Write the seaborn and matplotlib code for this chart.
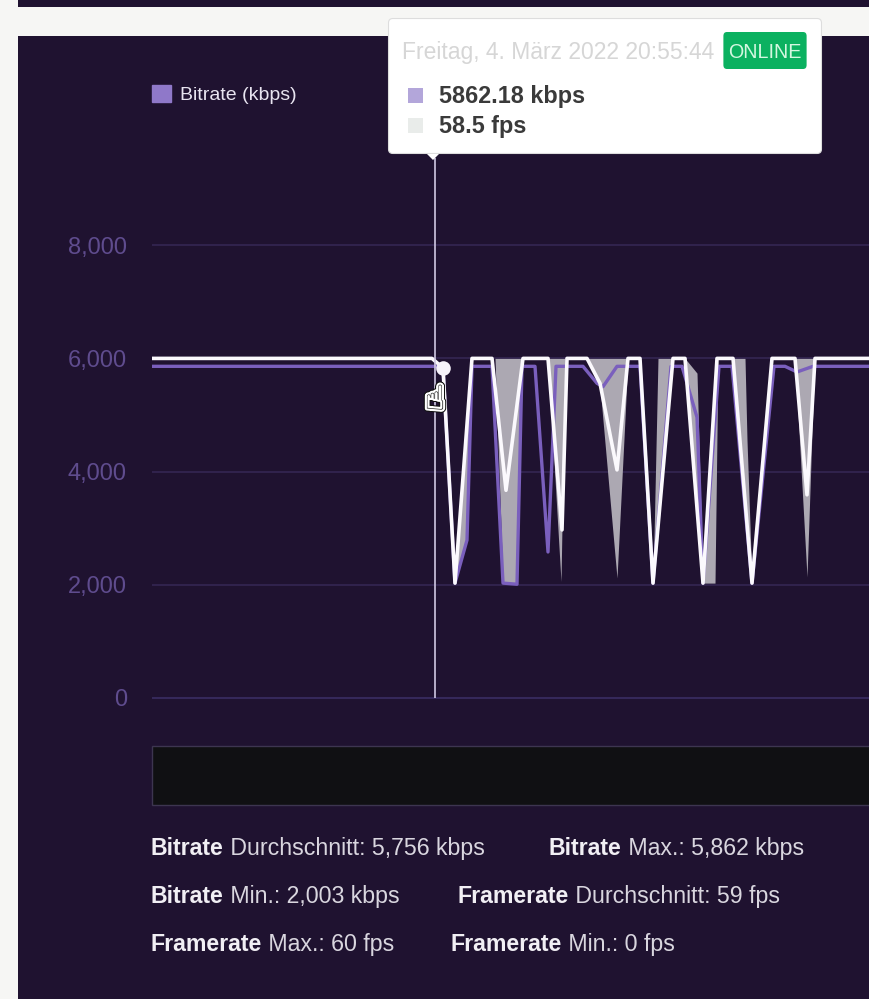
import numpy as np
import pandas as pd
import seaborn as sns
import matplotlib.pyplot as plt
from matplotlib.patches import FancyBboxPatch, Rectangle, Patch, Polygon
import matplotlib.patheffects as pe

W, H = 870, 999

# time is seconds from the left edge of the plot
bitrate_t = [0, 283, 291, 303, 315, 320, 340, 351, 365, 370, 383, 396, 404, 431, 445, 451,
             465, 476, 488, 501, 519, 530, 545, 551, 567, 580, 600, 622, 633, 645, 661, 718]
bitrate = [5860, 5860, 5830, 2030, 2790, 5860, 5860, 2030, 2010, 5860, 5860, 2580, 5860, 5860, 5560, 5500,
           5860, 5860, 5860, 2030, 5860, 5860, 4960, 2030, 5860, 5860, 2030, 5860, 5860, 5760, 5860, 5860]

framerate_t = [0, 280, 291, 303, 320, 340, 354, 371, 396, 410, 415, 435, 448, 465, 476, 488, 501, 521, 533,
               551, 565, 581, 600, 620, 643, 655, 663, 718]
framerate = [6000, 6000, 5830, 2030, 6000, 6000, 3670, 6000, 6000, 2970, 6000, 6000, 5560, 4030, 6000, 6000, 2030, 6000, 6000,
             2030, 6000, 6000, 2030, 6000, 6000, 3590, 6000, 6000]

# grey band between two series
band_t = [291, 303, 315, 320, 340, 343, 351, 365, 370, 396, 409, 413, 435, 448, 465, 476, 488, 501, 506, 521,
          533, 545, 551, 563, 566, 581, 593, 595, 600, 643, 655, 660, 663]
band_a = [5830, 2030, 4830, 6000, 6000, 6000, 6000, 6000, 6000, 6000, 6000, 6000, 6000, 6000, 6000, 6000, 6000, 2030, 3020, 6000,
          6000, 3350, 2030, 5430, 6000, 6000, 3490, 3070, 2030, 6000, 6000, 6000, 6000]
band_b = [5830, 2030, 2790, 6000, 6000, 6000, 2030, 2030, 6000, 6000, 2060, 6000, 6000, 5500, 2120, 6000, 6000, 2030, 6000, 6000,
          6000, 5740, 2030, 2030, 6000, 6000, 6000, 4560, 2030, 6000, 2140, 4700, 6000]

y_ticks = [0, 2000, 4000, 6000, 8000]

cursor_t = 283
hover_t = 291
hover_v = 5830

stats_rows = [
    [(151, 'Bitrate', ' Durchschnitt: 5,756 kbps'), (549, 'Bitrate', ' Max.: 5,862 kbps')],
    [(151, 'Bitrate', ' Min.: 2,003 kbps'), (458, 'Framerate', ' Durchschnitt: 59 fps')],
    [(151, 'Framerate', ' Max.: 60 fps'), (451, 'Framerate', ' Min.: 0 fps')],
]
stats_y = [855, 903, 951]

sns.set_theme(style='dark')
plt.rcParams['font.family'] = ['Liberation Sans', 'DejaVu Sans']

dark = '#1f1230'


def fx(x):
    return x / W


def fy(y):
    return 1 - y / H


def box(x0, y0, x1, y1, **kw):
    r = Rectangle((fx(x0), fy(y1)), (x1 - x0) / W, (y1 - y0) / H, transform=fig.transFigure, **kw)
    fig.add_artist(r)
    return r


fig = plt.figure(figsize=(W / 100, H / 100), dpi=100, facecolor='#f6f6f4')

box(18, 0, W + 5, 7, fc=dark, ec='none', zorder=-1)
box(18, 36, W + 5, H + 5, fc=dark, ec='none', zorder=-1)

# y=0 is at 698px, 8000 at 245px
ax = fig.add_axes([fx(152), fy(698), 718 / W, 566 / H])
ax.set_facecolor('none')
ax.set_xlim(0, 718)
ax.set_ylim(0, 10000)
for s in ax.spines.values():
    s.set_visible(False)

ax.set_yticks(y_ticks)
ax.set_yticklabels(['{:,}'.format(v) for v in y_ticks])
ax.tick_params(axis='y', length=0, pad=18, labelsize=17, labelcolor='#5f4c8e')
ax.set_xticks([])
ax.grid(False)
ax.hlines(y_ticks[1:], 0, 718, color='#322450', lw=1.3, zorder=1)
ax.hlines(0, 0, 718, color='#35285a', lw=1.5, zorder=1, clip_on=False)

ax.fill_between(band_t, band_a, band_b, color='#aca8b2', lw=0, zorder=2)
sns.lineplot(x=bitrate_t, y=bitrate, color='#7a5fbd', lw=2.4, estimator=None, sort=False, ax=ax, zorder=3)
sns.lineplot(x=framerate_t, y=framerate, color='#fbf9fd', lw=2.6, estimator=None, sort=False, ax=ax, zorder=4)

ax.vlines(cursor_t, 0, 9540, color='#cfc8e2', lw=1.2, zorder=5)
ax.scatter([hover_t], [hover_v], s=110, color='#f6f2fa', lw=0, zorder=6)
ax.text(cursor_t, 5270, '\u261d', family='DejaVu Sans', fontsize=25, color='#222222', ha='center', va='center',
        zorder=7, path_effects=[pe.Stroke(linewidth=4.5, foreground='#111111'),
                                pe.Stroke(linewidth=3, foreground='white'), pe.Normal()])

ax.set_xlabel('')
ax.set_ylabel('')

leg = ax.legend(handles=[Patch(color='#8f78c9', label='Bitrate (kbps)')], loc='upper left',
                bbox_to_anchor=(fx(152), fy(85)), bbox_transform=fig.transFigure, frameon=False,
                borderpad=0, borderaxespad=0, handlelength=0.98, handleheight=1.0, handletextpad=0.45, fontsize=14)
leg.get_texts()[0].set_color('#e8e4f0')

# range selector strip
box(152, 746, W + 5, 805, fc='#101013', ec='#3d3550', lw=1, zorder=1)

# tooltip
tip = FancyBboxPatch((fx(392), fy(150)), 426 / W, 128 / H, boxstyle='round,pad=0.004,rounding_size=0.005',
                     transform=fig.transFigure, fc='white', ec='#dddddd', lw=0.8, zorder=8, mutation_aspect=W / H)
fig.add_artist(tip)
fig.add_artist(Polygon([[fx(427), fy(154)], [fx(433), fy(160)], [fx(439), fy(154)]], closed=True,
                       transform=fig.transFigure, fc='white', ec='none', zorder=8))
fig.text(fx(402), fy(52), 'Freitag, 4. März 2022 20:55:44', color='#d6d6d6', fontsize=16.5, va='center', zorder=9)
badge = FancyBboxPatch((fx(726), fy(66)), 78 / W, 31 / H, boxstyle='round,pad=0.003,rounding_size=0.004',
                       transform=fig.transFigure, fc='#0bb160', ec='none', zorder=9)
fig.add_artist(badge)
fig.text(fx(765), fy(52.5), 'ONLINE', color='#d4f7e0', fontsize=14.2, ha='center', va='center', zorder=10)
box(408, 88, 423, 103, fc='#b3a6da', ec='none', zorder=9)
box(408, 118, 423, 133, fc='#e9ecea', ec='none', zorder=9)
fig.text(fx(439), fy(96), '5862.18 kbps', color='#3a3a3a', fontsize=16.8, fontweight='bold', va='center', zorder=9)
fig.text(fx(439), fy(126), '58.5 fps', color='#3a3a3a', fontsize=16.8, fontweight='bold', va='center', zorder=9)

# stats below the chart, bold label then plain value
fig.canvas.draw()
rend = fig.canvas.get_renderer()
for row, y in zip(stats_rows, stats_y):
    for x, label, rest in row:
        t = fig.text(fx(x), fy(y), label, color='#f1eff4', fontsize=16.7, fontweight='bold', va='baseline')
        w = t.get_window_extent(rend).width
        fig.text(fx(x + w), fy(y), rest, color='#d9d6df', fontsize=16.7, va='baseline')

fig.savefig('out.png', dpi=100, facecolor=fig.get_facecolor())
